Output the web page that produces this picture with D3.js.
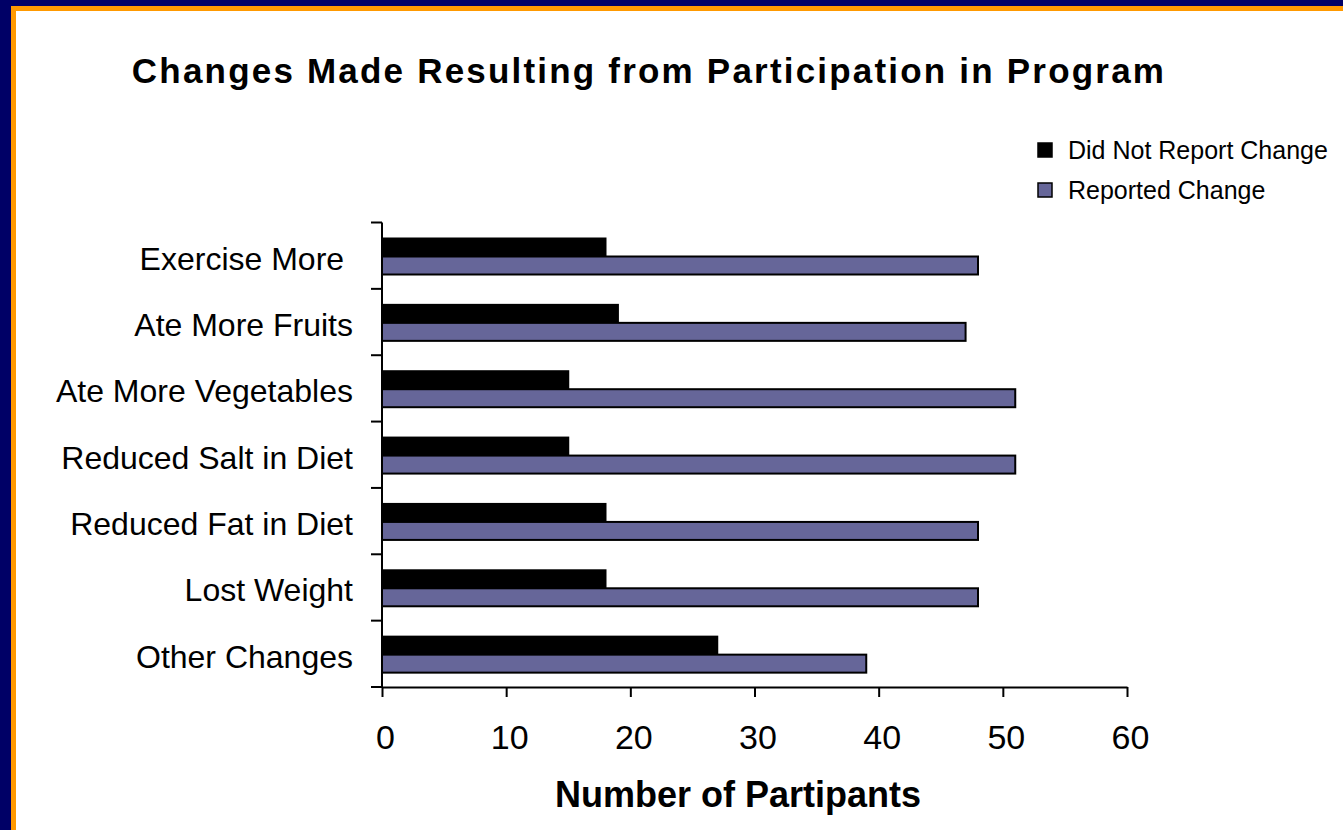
<!DOCTYPE html>
<html><head><meta charset="utf-8">
<script src="https://cdn.jsdelivr.net/npm/d3@7"></script>
<style>html,body{margin:0;padding:0;background:#fff;overflow:hidden}text{font-family:"Liberation Sans",Arial,sans-serif}</style>
</head><body><svg id="c" width="1343" height="830"></svg>
<script>
const categories = ["Exercise More ", "Ate More Fruits", "Ate More Vegetables", "Reduced Salt in Diet", "Reduced Fat in Diet", "Lost Weight", "Other Changes"];
const seriesNames = ["Did Not Report Change", "Reported Change"];
const didNotReport = [18, 19, 15, 15, 18, 18, 27];
const reported = [48, 47, 51, 51, 48, 48, 39];
const xTicks = [0, 10, 20, 30, 40, 50, 60];
const colors = ["#000000", "#666699"];

const svg = d3.select("#c");
// frame
svg.append("rect").attr("x",0).attr("y",0).attr("width",1343).attr("height",830).attr("fill","#000066");
svg.append("rect").attr("x",11).attr("y",6).attr("width",1332).attr("height",824).attr("fill","#FF9900");
svg.append("rect").attr("x",16).attr("y",11).attr("width",1327).attr("height",819).attr("fill","#ffffff");

svg.append("text").attr("x",649).attr("y",83).attr("text-anchor","middle")
  .attr("font-size",35).attr("font-weight","bold").attr("letter-spacing",2.2)
  .text("Changes Made Resulting from Participation in Program");

const x = d3.scaleLinear().domain([0,60]).range([382,1127]);
const y = d3.scaleBand().domain(categories).range([222.5,687]).padding(0);
const ys = d3.scaleBand().domain([0,1]).range([16, 52]);

const data = categories.map((c,i)=>({c, v:[didNotReport[i], reported[i]]}));
const g = svg.append("g");
data.forEach(d=>{
  d.v.forEach((v,j)=>{
    g.append("rect").attr("x",x(0)).attr("y",y(d.c)+ys(j))
     .attr("width",x(v)-x(0)).attr("height",ys.bandwidth())
     .attr("fill",colors[j]).attr("stroke","#000").attr("stroke-width",2);
  });
});

// y axis
const yAxis = svg.append("g");
yAxis.append("line").attr("x1",382).attr("x2",382).attr("y1",222.5).attr("y2",687).attr("stroke","#000").attr("stroke-width",2);
const bounds = categories.map(c=>y(c)).concat([687]);
bounds.forEach(b=>yAxis.append("line").attr("x1",371).attr("x2",382).attr("y1",b).attr("y2",b).attr("stroke","#000").attr("stroke-width",2));
categories.forEach(c=>{
  yAxis.append("text").attr("x",353).attr("y",y(c)+y.bandwidth()/2+14)
   .attr("text-anchor","end").attr("font-size",32).style("white-space","pre").text(c);
});

// x axis
const xAxis = svg.append("g").attr("transform","translate(0,687)")
  .call(d3.axisBottom(x).tickValues(xTicks).tickSize(10).tickPadding(28).tickSizeOuter(0));
xAxis.select(".domain").attr("stroke","#000").attr("stroke-width",2);
xAxis.selectAll(".tick line").attr("stroke","#000").attr("stroke-width",2);
xAxis.selectAll(".tick text").attr("font-size",34).attr("fill","#000").attr("dx",3).attr("font-family","Liberation Sans, Arial, sans-serif");

svg.append("text").attr("x",738).attr("y",807).attr("text-anchor","middle")
  .attr("font-size",36).attr("font-weight","bold").text("Number of Partipants");

// legend
const leg = svg.append("g");
seriesNames.forEach((s,i)=>{
  leg.append("rect").attr("x",1038).attr("y",143+i*40).attr("width",14).attr("height",14)
    .attr("fill",colors[i]).attr("stroke","#000").attr("stroke-width",1.5);
  leg.append("text").attr("x",1068).attr("y",159+i*40).attr("font-size",25).text(s);
});
</script></body></html>
